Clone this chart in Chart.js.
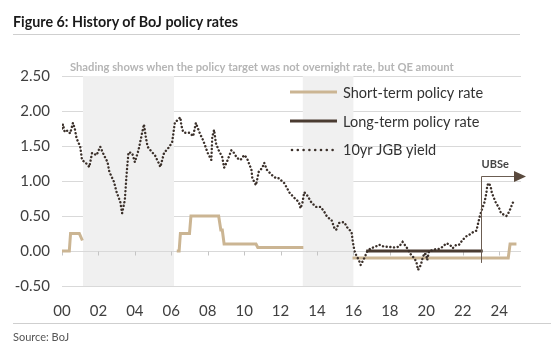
<!DOCTYPE html>
<html>
<head>
<meta charset="utf-8">
<script src="https://cdn.jsdelivr.net/npm/chart.js"></script>
<style>
  body { margin: 0; background: #fff; }
  #wrap { position: relative; width: 554px; height: 350px; font-family: Lato, "Open Sans", sans-serif; }
  #myChart { position: absolute; left: 0; top: 0; }
  .title { position: absolute; left: 13px; top: 13px; font-weight: bold; font-size: 14.3px; color: #1a1a1a; line-height: 18px; }
  .rule { position: absolute; left: 13px; height: 1px; background: #cfcfcf; }
  .source { position: absolute; left: 13px; top: 330px; font-size: 11px; color: #555; line-height: 14px; }
</style>
</head>
<body>
<div id="wrap">
  <canvas id="myChart" width="554" height="350"></canvas>
  <div class="title">Figure 6: History of BoJ policy rates</div>
  <div class="rule" style="top:34px; width:507px;"></div>
  <div class="rule" style="top:323px; width:538px;"></div>
  <div class="source">Source: BoJ</div>
</div>
<script>
// 10yr JGB yield (year, %)
const jgbDates = [2000.0, 2000.05, 2000.15, 2000.3, 2000.45, 2000.6, 2000.7, 2000.8, 2001.0, 2001.1,
  2001.3, 2001.5, 2001.65, 2001.9, 2002.1, 2002.3, 2002.5, 2002.6, 2002.85, 2003.0,
  2003.2, 2003.3, 2003.45, 2003.55, 2003.65, 2003.85, 2004.0, 2004.2, 2004.4, 2004.5,
  2004.6, 2004.7, 2004.95, 2005.1, 2005.3, 2005.4, 2005.6, 2005.9, 2006.05, 2006.2,
  2006.35, 2006.5, 2006.55, 2006.65, 2006.75, 2007.0, 2007.2, 2007.35, 2007.45, 2007.6,
  2007.7, 2007.85, 2008.0, 2008.2, 2008.25, 2008.35, 2008.45, 2008.6, 2008.8, 2008.9,
  2009.05, 2009.3, 2009.45, 2009.6, 2009.8, 2010.0, 2010.15, 2010.4, 2010.45, 2010.65,
  2010.8, 2011.0, 2011.1, 2011.25, 2011.5, 2011.75, 2011.9, 2012.2, 2012.5, 2012.75,
  2013.0, 2013.1, 2013.2, 2013.3, 2013.45, 2013.7, 2013.95, 2014.2, 2014.4, 2014.55,
  2014.8, 2014.95, 2015.05, 2015.2, 2015.4, 2015.5, 2015.65, 2015.9, 2015.95, 2016.05,
  2016.15, 2016.3, 2016.4, 2016.6, 2016.75, 2016.95, 2017.2, 2017.4, 2017.7, 2017.95,
  2018.2, 2018.5, 2018.7, 2018.9, 2019.2, 2019.3, 2019.45, 2019.55, 2019.7, 2019.8,
  2019.9, 2020.0, 2020.05, 2020.15, 2020.35, 2020.55, 2020.7, 2020.9, 2021.1, 2021.3,
  2021.45, 2021.65, 2021.8, 2022.0, 2022.2, 2022.35, 2022.5, 2022.75, 2022.85, 2022.95,
  2023.05, 2023.2, 2023.3, 2023.35, 2023.45, 2023.55, 2023.6, 2023.8, 2024.0, 2024.1,
  2024.4, 2024.55, 2024.75, 2024.85];
const jgbYield = [1.75, 1.81, 1.70, 1.72, 1.68, 1.83, 1.75, 1.61, 1.49, 1.30,
  1.26, 1.20, 1.40, 1.37, 1.49, 1.37, 1.27, 1.13, 0.99, 0.84,
  0.70, 0.54, 0.73, 1.11, 1.41, 1.40, 1.27, 1.44, 1.69, 1.81,
  1.63, 1.49, 1.41, 1.37, 1.26, 1.20, 1.40, 1.49, 1.56, 1.84,
  1.87, 1.91, 1.80, 1.70, 1.69, 1.69, 1.64, 1.83, 1.76, 1.66,
  1.61, 1.51, 1.40, 1.30, 1.63, 1.73, 1.54, 1.44, 1.34, 1.19,
  1.27, 1.44, 1.40, 1.33, 1.30, 1.37, 1.33, 1.16, 1.04, 0.94,
  1.13, 1.19, 1.26, 1.16, 1.09, 1.04, 1.04, 0.97, 0.83, 0.76,
  0.70, 0.61, 0.69, 0.84, 0.80, 0.69, 0.63, 0.63, 0.56, 0.49,
  0.44, 0.33, 0.30, 0.40, 0.41, 0.41, 0.34, 0.27, 0.16, 0.01,
  -0.06, -0.13, -0.20, -0.10, -0.01, 0.04, 0.06, 0.09, 0.06, 0.06,
  0.05, 0.06, 0.13, 0.06, -0.07, -0.09, -0.15, -0.27, -0.20, -0.10,
  -0.03, -0.06, -0.13, 0.00, 0.01, 0.03, 0.03, 0.06, 0.11, 0.09,
  0.04, 0.09, 0.09, 0.16, 0.21, 0.23, 0.26, 0.29, 0.40, 0.51,
  0.59, 0.70, 0.83, 0.94, 0.97, 0.90, 0.83, 0.70, 0.61, 0.54,
  0.50, 0.56, 0.69, 0.70];

// Short-term policy rate (null = no overnight target)
const shortDates = [2000.0, 2000.4, 2000.47, 2000.95, 2001.12, 2001.2,
  2006.3, 2006.43, 2006.5, 2007.0, 2007.08, 2008.6, 2008.72, 2008.8, 2008.9, 2010.65, 2010.75, 2013.25, 2014.0,
  2015.95, 2024.5, 2024.6, 2024.95];
const shortRate = [0, 0, 0.25, 0.25, 0.15, null,
  0, 0, 0.25, 0.25, 0.5, 0.5, 0.3, 0.3, 0.1, 0.1, 0.05, 0.05, null,
  -0.1, -0.1, 0.1, 0.1];

// Long-term policy rate (yield curve control target)
const longDates = [2016.7, 2023.1];
const longRate = [0, 0];

// periods where the target was QE amount
const qePeriods = [[2001.15, 2006.15], [2013.22, 2016.0]];
const forecastStart = 2023.0;

const yTicks = [-0.5, 0, 0.5, 1, 1.5, 2, 2.5];
const xTickYears = [2000, 2002, 2004, 2006, 2008, 2010, 2012, 2014, 2016, 2018, 2020, 2022, 2024];

const legendItems = ['Short-term policy rate', 'Long-term policy rate', '10yr JGB yield'];

const TAN = '#cbb593';
const DARK = '#4a3b31';
const DOTS = '#3b302a';

const toXY = (xs, ys) => xs.map((x, i) => ({ x: x, y: ys[i] }));

const overlay = {
  id: 'overlay',
  beforeDatasetsDraw(chart) {
    const { ctx, chartArea, scales } = chart;
    const xs = scales.x, ys = scales.y;
    ctx.save();
    ctx.fillStyle = '#f0f0f0';
    qePeriods.forEach(p => {
      const x0 = xs.getPixelForValue(p[0]), x1 = xs.getPixelForValue(p[1]);
      ctx.fillRect(x0, chartArea.top, x1 - x0, chartArea.bottom - chartArea.top);
    });
    // zero line and small tick marks
    const y0 = Math.round(ys.getPixelForValue(0)) + 0.5;
    ctx.strokeStyle = '#d9d9d9';
    ctx.lineWidth = 1;
    ctx.beginPath();
    ctx.moveTo(chartArea.left, y0);
    ctx.lineTo(chartArea.right, y0);
    ctx.stroke();
    ctx.strokeStyle = '#c4c4c4';
    xTickYears.forEach(yr => {
      const x = Math.round(xs.getPixelForValue(yr)) + 0.5;
      ctx.beginPath();
      ctx.moveTo(x, y0);
      ctx.lineTo(x, y0 + 4);
      ctx.stroke();
    });
    ctx.restore();
  },
  afterDatasetsDraw(chart) {
    const { ctx, scales } = chart;
    const xs = scales.x, ys = scales.y;
    ctx.save();
    // forecast marker
    const fx = Math.round(xs.getPixelForValue(forecastStart)) + 0.5;
    const topY = 176.5;
    ctx.strokeStyle = '#6b5d52';
    ctx.lineWidth = 1;
    ctx.beginPath();
    ctx.moveTo(fx, ys.getPixelForValue(-0.17));
    ctx.lineTo(fx, topY);
    ctx.lineTo(515, topY);
    ctx.stroke();
    ctx.fillStyle = '#5a4a3e';
    ctx.beginPath();
    ctx.moveTo(514, topY - 5.5);
    ctx.lineTo(526, topY);
    ctx.lineTo(514, topY + 5.5);
    ctx.closePath();
    ctx.fill();
    ctx.fillStyle = '#444';
    ctx.font = 'bold 11px Lato';
    ctx.textBaseline = 'middle';
    ctx.textAlign = 'left';
    ctx.fillText('UBSe', fx, 164);

    // subtitle
    ctx.fillStyle = '#b5b5b5';
    ctx.font = 'bold 11.2px Lato';
    ctx.fillText('Shading shows when the policy target was not overnight rate, but QE amount', 70, 67);

    // legend
    const lx0 = 290, lx1 = 337, ly = [92, 121, 149];
    ctx.font = '14.5px Lato';
    ctx.fillStyle = '#333';
    legendItems.forEach((t, i) => {
      ctx.fillText(t, 343, ly[i] + 1);
    });
    ctx.lineWidth = 3;
    ctx.strokeStyle = TAN;
    ctx.beginPath(); ctx.moveTo(lx0, ly[0]); ctx.lineTo(lx1, ly[0]); ctx.stroke();
    ctx.strokeStyle = DARK;
    ctx.beginPath(); ctx.moveTo(lx0, ly[1]); ctx.lineTo(lx1, ly[1]); ctx.stroke();
    ctx.fillStyle = DOTS;
    for (let i = 0; i < 8; i++) {
      ctx.beginPath();
      ctx.arc(lx0 + 2 + i * 5.8, ly[2] + 1, 1.3, 0, Math.PI * 2);
      ctx.fill();
    }
    ctx.restore();
  }
};

const data = {
  datasets: [
    {
      label: legendItems[2],
      data: toXY(jgbDates, jgbYield),
      borderColor: DOTS,
      borderWidth: 2.4,
      borderDash: [0.1, 3.6],
      borderCapStyle: 'round',
      pointRadius: 0,
      order: 0
    },
    {
      label: legendItems[1],
      data: toXY(longDates, longRate),
      borderColor: DARK,
      borderWidth: 3,
      pointRadius: 0,
      order: 1
    },
    {
      label: legendItems[0],
      data: toXY(shortDates, shortRate),
      borderColor: TAN,
      borderWidth: 3,
      pointRadius: 0,
      spanGaps: false,
      order: 2
    }
  ]
};

const config = {
  type: 'line',
  data,
  options: {
    responsive: false,
    animation: false,
    devicePixelRatio: 1,
    layout: { padding: { left: 0, right: 33, top: 76, bottom: 0 } },
    plugins: { legend: { display: false }, tooltip: { enabled: false } },
    scales: {
      x: {
        type: 'linear',
        min: 2000,
        max: 2025.2,
        afterBuildTicks: s => { s.ticks = xTickYears.map(v => ({ value: v })); },
        afterFit: s => { s.height = 64; },
        grid: { display: false },
        border: { display: false },
        ticks: {
          padding: 8,
          color: '#404040',
          font: { family: 'Lato', size: 15 },
          maxRotation: 0,
          autoSkip: false,
          callback: v => String(v % 100).padStart(2, '0')
        }
      },
      y: {
        min: -0.5,
        max: 2.5,
        afterBuildTicks: s => { s.ticks = yTicks.map(v => ({ value: v })); },
        afterFit: s => { s.width = 62; },
        grid: { color: '#d9d9d9', drawTicks: false },
        border: { display: false },
        ticks: {
          padding: 12,
          color: '#404040',
          font: { family: 'Lato', size: 15 },
          callback: v => v.toFixed(2)
        }
      }
    }
  },
  plugins: [overlay]
};

const myChart = new Chart(document.getElementById('myChart'), config);
</script>
</body>
</html>
